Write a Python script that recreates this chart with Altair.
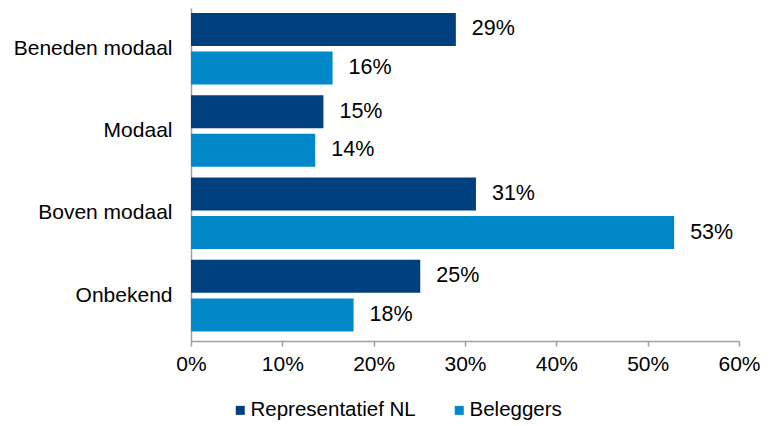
import altair as alt
import pandas as pd

categories = ["Beneden modaal", "Modaal", "Boven modaal", "Onbekend"]
series = ["Representatief NL", "Beleggers"]
rep_nl = [0.290, 0.145, 0.312, 0.251]
beleggers = [0.155, 0.136, 0.529, 0.178]
rep_labels = ["29%", "15%", "31%", "25%"]
bel_labels = ["16%", "14%", "53%", "18%"]
colors = ["#00407F", "#0088C9"]

rows = []
for i, c in enumerate(categories):
    rows.append({"cat": c, "serie": series[0], "val": rep_nl[i], "lab": rep_labels[i]})
    rows.append({"cat": c, "serie": series[1], "val": beleggers[i], "lab": bel_labels[i]})
df = pd.DataFrame(rows)

FONT = "Liberation Sans"

y_enc = alt.Y("cat:N", sort=categories, title=None,
              scale=alt.Scale(paddingInner=0.131, paddingOuter=0.0885, align=0.34),
              axis=alt.Axis(ticks=False, labelPadding=19, labelFontSize=21,
                            labelFont=FONT, labelColor="#000000",
                            domainColor="#A0A0A0", domainWidth=1.5, labelLimit=300))
yoff = alt.YOffset("serie:N", sort=series, scale=alt.Scale(paddingInner=0.143, paddingOuter=0))

base = alt.Chart(df).encode(y=y_enc, yOffset=yoff)

bars = base.mark_bar().encode(
    x=alt.X("val:Q", title=None,
            scale=alt.Scale(domain=[0, 0.6], nice=False),
            axis=alt.Axis(format=".0%", values=[0, 0.1, 0.2, 0.3, 0.4, 0.5, 0.6],
                          grid=False, tickSize=5, tickColor="#A0A0A0", tickWidth=1.5,
                          domainColor="#A0A0A0", domainWidth=1.5, labelFlush=False,
                          labelFontSize=21, labelFont=FONT, labelColor="#000000",
                          labelPadding=7)),
    color=alt.Color("serie:N", sort=series,
                    scale=alt.Scale(domain=series, range=colors),
                    legend=alt.Legend(title=None, orient="none", direction="horizontal",
                                      legendX=39, legendY=392, symbolType="square",
                                      symbolSize=81, symbolStrokeWidth=0,
                                      labelFontSize=20.5, labelFont=FONT,
                                      labelColor="#000000", labelOffset=0,
                                      columnPadding=33, labelLimit=300)),
)

text = base.mark_text(align="left", baseline="middle", dx=16, fontSize=21.5,
                      font=FONT, color="#000000").encode(
    x=alt.X("val:Q"),
    text="lab:N",
)

chart = (bars + text).properties(
    width=548, height=333,
    autosize=alt.AutoSizeParams(type="none"),
    padding={"left": 183, "top": 0, "right": 22, "bottom": 85},
).configure_view(stroke=None)

chart.save("out.html", embed_options={"renderer": "svg", "actions": False})
